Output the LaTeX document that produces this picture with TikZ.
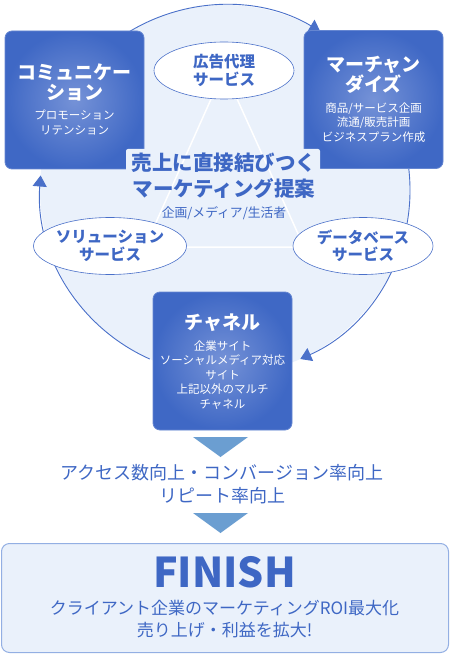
\documentclass[tikz,border=0pt]{standalone}
\usepackage{fontspec}
\setmainfont{Noto Sans CJK JP}
\usetikzlibrary{calc,arrows.meta,shapes.geometric}

\definecolor{boxblue}{HTML}{3F68C5}
\definecolor{boxglow}{HTML}{7592D7}
\definecolor{textblue}{HTML}{3E67C4}
\definecolor{ringfill}{HTML}{EAF1FB}
\definecolor{ringline}{HTML}{4A70C9}
\definecolor{pointerblue}{HTML}{6B9ED1}
\definecolor{finishline}{HTML}{93AFE3}

\begin{document}
\begin{tikzpicture}[x=1pt,y=1pt,
  bluebox/.style={rounded corners=7pt,shading=radial,inner color=boxglow,outer color=boxblue,
    draw=boxblue!80!white,line width=0.8pt,minimum width=139pt,minimum height=138pt,inner sep=0pt},
  svcellipse/.style={ellipse,draw=ringline,fill=white,line width=0.6pt,minimum width=140pt,
    minimum height=57pt,inner sep=0pt,text=textblue,align=center,
    font=\bfseries\fontsize{15.5}{17.5}\selectfont},
  boxtitle/.style={text=white,align=center,inner sep=0pt,font=\bfseries\fontsize{19}{20}\selectfont},
  boxsub/.style={text=white,align=center,inner sep=0pt,font=\fontsize{11.5}{14.6}\selectfont},
  ringarrow/.style={ringline,line width=0.9pt,-{Triangle[length=11pt,width=14pt]}},
  bluetext/.style={text=textblue,align=center,inner sep=0pt}]
  \useasboundingbox (0,0) rectangle (451,-655);

  % ring behind everything
  \coordinate (hub) at (225,-190);
  \fill[ringfill] (hub) circle [radius=185];

  \coordinate (adtip) at (224,-70);
  \coordinate (soltip) at (145,-247);
  \coordinate (dbtip) at (304,-247);
  \draw[white,line width=1.5pt] (adtip) -- (soltip) -- (dbtip) -- cycle;

  \draw[ringarrow] ($ (hub) + (122:185) $) arc [start angle=122,end angle=59,radius=185];
  \draw[ringarrow] ($ (hub) + (7:185) $) arc [start angle=7,end angle=-66,radius=185];
  \draw[ringarrow] ($ (hub) + (246:185) $) arc [start angle=246,end angle=175.5,radius=185];

  % the three blocks
  \node[bluebox] (comm) at (74.5,-100) {};
  \node[bluebox] (merch) at (373.5,-99.5) {};
  \node[bluebox] (chan) at (222.5,-361) {};

  \node[boxtitle] (commtitle) at (74.5,-82) {コミュニケー\\ション};
  \node[boxsub] (commsub) at (74.5,-122.5) {プロモーション\\リテンション};
  \node[boxtitle] (merchtitle) at (373.5,-75) {マーチャン\\ダイズ};
  \node[boxsub] (merchsub) at (373.5,-122.5) {商品/サービス企画\\流通/販売計画\\ビジネスプラン作成};
  \node[boxtitle] (chantitle) at (222.5,-323) {チャネル};
  \node[boxsub] (chansub) at (222.5,-375) {企業サイト\\ソーシャルメディア対応\\サイト\\上記以外のマルチ\\チャネル};

  % services
  \node[svcellipse] (ad) at (224,-70.5) {広告代理\\サービス};
  \node[svcellipse] (sol) at (110,-246) {ソリューション\\サービス};
  \node[svcellipse] (db) at (363,-246) {データベース\\サービス};

  % light patches where the headline runs over the block corners
  \fill[ringfill,rounded corners=2pt] (126,-149) rectangle (148,-172);
  \fill[ringfill,rounded corners=2pt] (301,-149) rectangle (320,-172);
  \node[bluetext,font=\bfseries\fontsize{20.5}{26}\selectfont] (pitch) at (224,-176) {売上に直接結びつく\\マーケティング提案};
  \node[bluetext,font=\fontsize{12.8}{14}\selectfont] (pitchsub) at (224,-213) {企画/メディア/生活者};

  % results
  \fill[pointerblue] (193,-437) -- (248,-437) -- (220.5,-457) -- cycle;
  \node[bluetext,font=\fontsize{18}{23}\selectfont] (uplift) at (222,-484.5) {アクセス数向上・コンバージョン率向上\\リピート率向上};
  \fill[pointerblue] (193,-513) -- (248,-513) -- (220.5,-533) -- cycle;

  \node[draw=finishline,fill=ringfill,rounded corners=8pt,line width=1pt,
    minimum width=447pt,minimum height=109pt] (goal) at (225,-598) {};
  \node[bluetext,font=\bfseries\fontsize{41}{41}\selectfont] (finish) at (224.5,-572) {FINISH};
  \node[bluetext,font=\fontsize{17}{22}\selectfont] (goalsub) at (224.5,-619) {クライアント企業のマーケティングROI最大化\\売り上げ・利益を拡大!};
\end{tikzpicture}
\end{document}
